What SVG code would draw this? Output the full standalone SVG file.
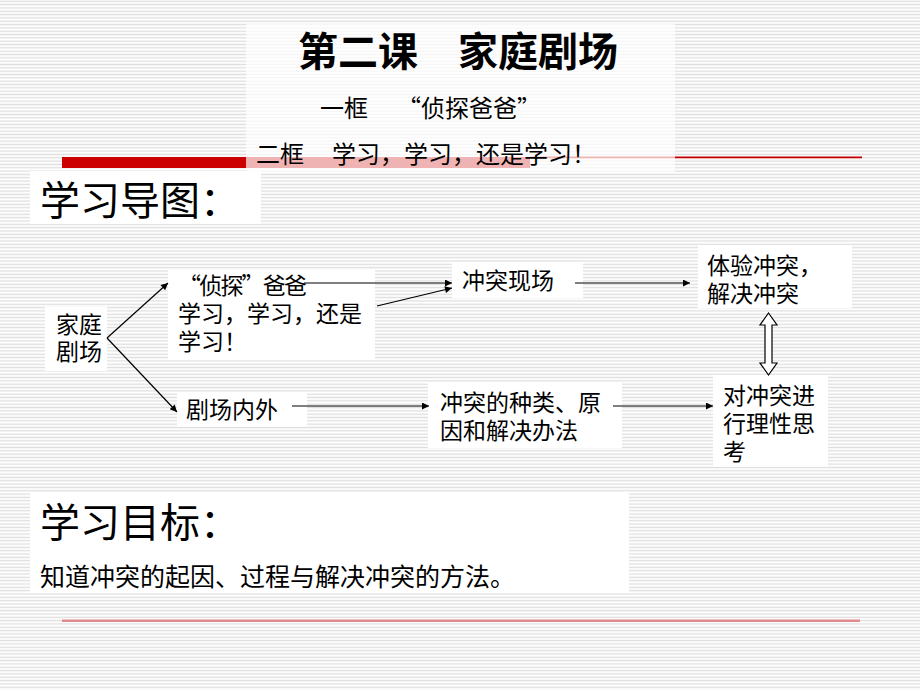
<svg xmlns="http://www.w3.org/2000/svg" width="920" height="690" viewBox="0 0 920 690">
  <defs>
    <pattern id="stripes" patternUnits="userSpaceOnUse" width="8" height="3.33">
      <rect x="0" y="0" width="8" height="3.33" fill="#ffffff"/>
      <rect x="0" y="0.6" width="8" height="1.3" fill="#dedede"/>
    </pattern>
    <marker id="arr" viewBox="0 0 10 10" refX="10" refY="5" markerWidth="9" markerHeight="7" markerUnits="userSpaceOnUse" orient="auto">
      <path d="M0,0 L10,5 L0,10 Z" fill="#000"/>
    </marker>
    <style>
      .t { font-family: "Noto Sans CJK SC", "Noto Sans CJK TC", sans-serif; fill: #000; }
      .title { font-size: 40px; font-weight: bold; }
      .sub { font-size: 24px; }
      .goal { font-size: 25px; }
      .head { font-size: 40px; }
      .n { font-size: 23px; }
      .box { fill: #ffffff; }
      .conn line { stroke: #000; stroke-width: 1.2; marker-end: url(#arr); }
    </style>
  </defs>

  <rect x="0" y="0" width="920" height="690" fill="url(#stripes)"/>

  <!-- decorative bars -->
  <rect x="62" y="157" width="468" height="11" fill="#cc0000"/>
  <rect x="530" y="156.5" width="332" height="1.6" fill="#c00000"/>
  <rect x="530" y="158.1" width="332" height="1" fill="#f0b0b0"/>
  <rect x="62" y="619.5" width="798" height="2.5" fill="#e08c8c"/>

  <!-- title block -->
  <g id="title">
    <rect x="246" y="24" width="429" height="149" fill="#ffffff" fill-opacity="0.7"/>
    <text class="t title" x="458" y="66" text-anchor="middle">第二课　家庭剧场</text>
    <text class="t sub" x="320" y="117">一框<tspan x="397">“侦探爸爸”</tspan></text>
    <text class="t sub" x="256" y="163">二框<tspan x="332">学习，学习，还是学习！</tspan></text>
  </g>

  <g id="heading-map">
    <rect class="box" x="30" y="171" width="231" height="53"/>
    <text class="t head" x="40" y="215">学习导图：</text>
  </g>

  <!-- nodes -->
  <g id="node-jiating">
    <rect class="box" x="45" y="307" width="62" height="64"/>
    <text class="t n"><tspan x="56" y="333">家庭</tspan><tspan x="56" y="360">剧场</tspan></text>
  </g>
  <g id="node-zhentan">
    <rect class="box" x="168" y="270" width="207" height="90"/>
    <text class="t n"><tspan x="178" y="294" letter-spacing="-1.8">“侦探”爸爸</tspan><tspan x="178" y="322">学习，学习，还是</tspan><tspan x="178" y="350">学习！</tspan></text>
  </g>
  <g id="node-xianchang">
    <rect class="box" x="452" y="262" width="131" height="36"/>
    <text class="t n" x="462" y="289">冲突现场</text>
  </g>
  <g id="node-tiyan">
    <rect class="box" x="698" y="245" width="154" height="63"/>
    <text class="t n"><tspan x="707" y="274">体验冲突，</tspan><tspan x="707" y="302">解决冲突</tspan></text>
  </g>
  <g id="node-neiwai">
    <rect class="box" x="177" y="392" width="130" height="35"/>
    <text class="t n" x="186" y="418">剧场内外</text>
  </g>
  <g id="node-zhonglei">
    <rect class="box" x="428" y="383" width="194" height="65"/>
    <text class="t n"><tspan x="440" y="411">冲突的种类、原</tspan><tspan x="440" y="439">因和解决办法</tspan></text>
  </g>
  <g id="node-lixing">
    <rect class="box" x="713" y="375" width="115" height="92"/>
    <text class="t n"><tspan x="723" y="404">对冲突进</tspan><tspan x="723" y="432">行理性思</tspan><tspan x="723" y="460">考</tspan></text>
  </g>

  <!-- connectors -->
  <g id="connectors" class="conn">
    <line x1="107" y1="338" x2="168" y2="283"/>
    <line x1="107" y1="338" x2="177" y2="412"/>
    <line x1="304" y1="283" x2="452" y2="283"/>
    <line x1="377" y1="306" x2="452" y2="288"/>
    <line x1="575" y1="283" x2="690" y2="283"/>
    <line x1="292" y1="406" x2="429" y2="406"/>
    <line x1="613" y1="406" x2="713" y2="406"/>
    <path d="M768.5,313 L777,325 L772,325 L772,363 L777,363 L768.5,375 L760,363 L765,363 L765,325 L760,325 Z" fill="#ffffff" stroke="#000" stroke-width="1.2"/>
  </g>

  <g id="heading-goal">
    <rect class="box" x="30" y="492" width="599" height="101"/>
    <text class="t head" x="40" y="537">学习目标：</text>
    <text class="t goal" x="40" y="586">知道冲突的起因、过程与解决冲突的方法。</text>
  </g>
</svg>
